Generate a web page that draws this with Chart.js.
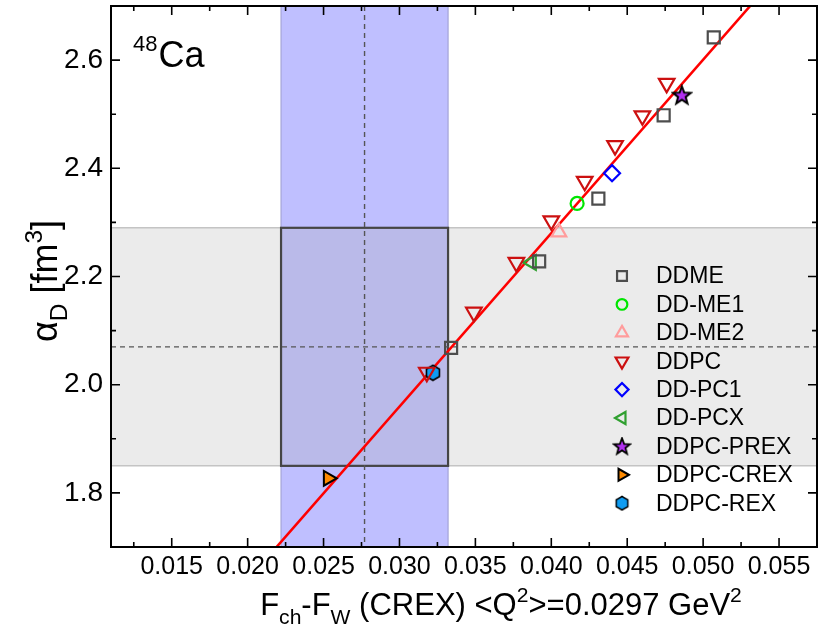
<!DOCTYPE html>
<html><head><meta charset="utf-8">
<script src="https://cdn.jsdelivr.net/npm/chart.js@4/dist/chart.umd.min.js"></script>
<style>html,body{margin:0;padding:0;background:#fff}</style>
</head><body>
<canvas id="c" width="830" height="636" style="display:block;width:830px;height:636px"></canvas>
<script>
// ---------- data ----------
const ddmeX  = [0.0507, 0.0474, 0.0431, 0.0392, 0.0334];
const ddmeY  = [2.642, 2.498, 2.344, 2.228, 2.068];
const ddme1X = [0.0417]; const ddme1Y = [2.335];
const ddme2X = [0.0405]; const ddme2Y = [2.282];
const ddpcX  = [0.0476, 0.0460, 0.0442, 0.0422, 0.0400, 0.0377, 0.0349, 0.0318];
const ddpcY  = [2.557, 2.497, 2.442, 2.376, 2.303, 2.226, 2.134, 2.023];
const ddpc1X = [0.0440]; const ddpc1Y = [2.391];
const ddpcxX = [0.0387]; const ddpcxY = [2.226];
const prexX  = [0.0486]; const prexY  = [2.535];
const crexX  = [0.0253]; const crexY  = [1.827];
const rexX   = [0.0322]; const rexY   = [2.022];
const fitX   = [0.0219, 0.0531];
const fitY   = [1.700, 2.700];
// experimental constraints: [central, error]
const crexFchFw = [0.0277, 0.0055];
const alphaDexp = [2.07, 0.22];
const xTicks = [0.015, 0.020, 0.025, 0.030, 0.035, 0.040, 0.045, 0.050, 0.055];
const xMinor = [0.0125, 0.0175, 0.0225, 0.0275, 0.0325, 0.0375, 0.0425, 0.0475, 0.0525];
const yTicks = [1.8, 2.0, 2.2, 2.4, 2.6];
const yMinor = [1.9, 2.1, 2.3, 2.5];

const FONT = "'Liberation Sans', Arial, Helvetica, sans-serif";
const PLOT_TOP = 6;

function pts(xs, ys){ return xs.map((x,i)=>({x:x, y:ys[i]})); }

function makeStar(){
  const c = document.createElement('canvas'); c.width = 22; c.height = 22;
  const g = c.getContext('2d'); const cx = 11, cy = 11.5, R = 9.5, r = 4;
  g.beginPath();
  for (let i=0;i<10;i++){
    const a = -Math.PI/2 + i*Math.PI/5; const rr = i%2===0 ? R : r;
    const px = cx + rr*Math.cos(a), py = cy + rr*Math.sin(a);
    if(i===0) g.moveTo(px,py); else g.lineTo(px,py);
  }
  g.closePath(); g.fillStyle = '#b22ff0'; g.fill();
  g.lineWidth = 2; g.lineJoin = 'miter'; g.strokeStyle = '#000'; g.stroke();
  return c;
}
function makeHex(){
  const c = document.createElement('canvas'); c.width = 18; c.height = 18;
  const g = c.getContext('2d'); const cx = 9, cy = 9, R = 7.5;
  g.beginPath();
  for (let i=0;i<6;i++){
    const a = -Math.PI/2 + i*Math.PI/3;
    const px = cx + R*Math.cos(a), py = cy + R*Math.sin(a);
    if(i===0) g.moveTo(px,py); else g.lineTo(px,py);
  }
  g.closePath(); g.fillStyle = '#0f9cf2'; g.fill();
  g.lineWidth = 1.6; g.strokeStyle = '#000'; g.stroke();
  return c;
}
const starImg = makeStar();
const hexImg = makeHex();

const none = 'rgba(0,0,0,0)';
const datasets = [
  {label:'DDME', data:pts(ddmeX,ddmeY), pointStyle:'rect', pointRadius:8.5, borderColor:'#4d4d4d', backgroundColor:none, pointBorderWidth:2.2},
  {label:'DD-ME1', data:pts(ddme1X,ddme1Y), pointStyle:'circle', pointRadius:6.5, borderColor:'#00e600', backgroundColor:none, pointBorderWidth:2.2},
  {label:'DD-ME2', data:pts(ddme2X,ddme2Y), pointStyle:'triangle', pointRadius:8.5, borderColor:'#ff9c9c', backgroundColor:none, pointBorderWidth:2.2},
  {label:'DDPC', data:pts(ddpcX,ddpcY), pointStyle:'triangle', pointRotation:180, pointRadius:9, borderColor:'#cc1010', backgroundColor:none, pointBorderWidth:2.2},
  {label:'DD-PC1', data:pts(ddpc1X,ddpc1Y), pointStyle:'rectRot', pointRadius:8, borderColor:'#0000ff', backgroundColor:none, pointBorderWidth:2.2},
  {label:'DD-PCX', data:pts(ddpcxX,ddpcxY), pointStyle:'triangle', pointRotation:270, pointRadius:8.5, borderColor:'#30a030', backgroundColor:none, pointBorderWidth:2.2},
  {label:'DDPC-PREX', data:pts(prexX,prexY), pointStyle:starImg, pointRadius:10, borderColor:'#000', backgroundColor:'#b22ff0', pointBorderWidth:2},
  {label:'DDPC-CREX', data:pts(crexX,crexY), pointStyle:'triangle', pointRotation:90, pointRadius:8.5, borderColor:'#000', backgroundColor:'#ff8a00', pointBorderWidth:2},
  {label:'DDPC-REX', data:pts(rexX,rexY), pointStyle:hexImg, pointRadius:8, borderColor:'#000', backgroundColor:'#0f9cf2', pointBorderWidth:1.6},
].map((d,i)=>Object.assign({type:'scatter', showLine:false, order:1, pointHoverRadius:d.pointRadius}, d));
datasets.unshift({type:'line', label:'fit', data:pts(fitX,fitY), borderColor:'#ff0000', borderWidth:2.6, pointRadius:0, fill:false, order:5, tension:0});

const decor = {
  id:'decor',
  afterLayout(chart){
    const a = chart.chartArea, ys = chart.scales.y;
    if (a && Math.abs(a.top - PLOT_TOP) > 0.01) {
      a.top = PLOT_TOP; a.height = a.bottom - a.top;
      ys.top = PLOT_TOP; ys.height = ys.bottom - ys.top;
      ys.configure();
    }
  },
  beforeDatasetsDraw(chart){
    const {ctx, chartArea:a, scales:{x, y}} = chart;
    const bx0 = x.getPixelForValue(crexFchFw[0]-crexFchFw[1]);
    const bx1 = x.getPixelForValue(crexFchFw[0]+crexFchFw[1]);
    const bxc = x.getPixelForValue(crexFchFw[0]);
    const gy0 = y.getPixelForValue(alphaDexp[0]+alphaDexp[1]);
    const gy1 = y.getPixelForValue(alphaDexp[0]-alphaDexp[1]);
    const gyc = y.getPixelForValue(alphaDexp[0]);
    ctx.save();
    ctx.beginPath(); ctx.rect(a.left, a.top, a.right-a.left, a.bottom-a.top); ctx.clip();
    ctx.fillStyle = '#ebebeb'; ctx.fillRect(a.left, gy0, a.right-a.left, gy1-gy0);
    ctx.strokeStyle = '#c4c4c4'; ctx.lineWidth = 1.5;
    ctx.beginPath(); ctx.moveTo(a.left, gy0); ctx.lineTo(a.right, gy0); ctx.moveTo(a.left, gy1); ctx.lineTo(a.right, gy1); ctx.stroke();
    ctx.fillStyle = '#bfbfff'; ctx.fillRect(bx0, a.top, bx1-bx0, a.bottom-a.top);
    ctx.strokeStyle = '#a4a4d8'; ctx.lineWidth = 1.2;
    ctx.beginPath(); ctx.moveTo(bx0, a.top); ctx.lineTo(bx0, a.bottom); ctx.moveTo(bx1, a.top); ctx.lineTo(bx1, a.bottom); ctx.stroke();
    ctx.fillStyle = '#babae9'; ctx.fillRect(bx0, gy0, bx1-bx0, gy1-gy0);
    ctx.strokeStyle = '#454545'; ctx.lineWidth = 2.2;
    ctx.strokeRect(bx0, gy0, bx1-bx0, gy1-gy0);
    ctx.setLineDash([5,4]); ctx.strokeStyle = '#555'; ctx.lineWidth = 1.4;
    ctx.beginPath(); ctx.moveTo(bxc, a.top); ctx.lineTo(bxc, a.bottom); ctx.stroke();
    ctx.beginPath(); ctx.moveTo(a.left, gyc); ctx.lineTo(a.right, gyc); ctx.stroke();
    ctx.restore();
  },
  afterDraw(chart){
    const {ctx, chartArea:a, scales:{x, y}} = chart;
    ctx.save();
    ctx.strokeStyle = '#000'; ctx.lineWidth = 2;
    ctx.strokeRect(a.left, a.top, a.right-a.left, a.bottom-a.top);
    ctx.lineWidth = 1.6; ctx.beginPath();
    const tk = (vals, len) => {
      vals.forEach(v=>{ const px = x.getPixelForValue(v); if(px<=a.left+1||px>=a.right-1) return;
        ctx.moveTo(px, a.bottom); ctx.lineTo(px, a.bottom-len); ctx.moveTo(px, a.top); ctx.lineTo(px, a.top+len); });
    };
    const tky = (vals, len) => {
      vals.forEach(v=>{ const py = y.getPixelForValue(v); if(py<=a.top+1||py>=a.bottom-1) return;
        ctx.moveTo(a.left, py); ctx.lineTo(a.left+len, py); ctx.moveTo(a.right, py); ctx.lineTo(a.right-len, py); });
    };
    tk(xTicks, 9); tk(xMinor, 5); tky(yTicks, 9); tky(yMinor, 5);
    ctx.stroke();

    const rich = (parts, x0, yb, size, fam) => {
      let cx = x0;
      parts.forEach(p=>{
        let fs = size, dy = 0;
        if (p.sub) { fs = size*0.68; dy = size*0.28; }
        if (p.sup) { fs = size*0.68; dy = -size*0.42; }
        ctx.font = fs + 'px ' + fam;
        ctx.fillText(p.t, cx, yb+dy);
        cx += ctx.measureText(p.t).width;
      });
      return cx - x0;
    };
    const richWidth = (parts, size, fam) => {
      let w = 0;
      parts.forEach(p=>{ const fs = (p.sub||p.sup)? size*0.68 : size; ctx.font = fs+'px '+fam; w += ctx.measureText(p.t).width; });
      return w;
    };
    ctx.fillStyle = '#000'; ctx.textBaseline = 'alphabetic'; ctx.textAlign = 'left';
    const xt = [{t:'F'},{t:'ch',sub:1},{t:'-F'},{t:'W',sub:1},{t:' (CREX) <Q'},{t:'2',sup:1},{t:'>=0.0297 GeV'},{t:'2',sup:1}];
    const xs = 31;
    const xw = richWidth(xt, xs, FONT);
    rich(xt, 501 - xw/2, 615, xs, FONT);
    const yt = [{t:'\u03B1'},{t:'D',sub:1},{t:' [fm'},{t:'3',sup:1},{t:']'}];
    const ys = 36;
    const yw = richWidth(yt, ys, FONT);
    ctx.save(); ctx.translate(57, 281); ctx.rotate(-Math.PI/2);
    rich(yt, -yw/2, 0, ys, FONT);
    ctx.restore();
    ctx.font = '22px ' + FONT; ctx.fillText('48', 133, 51);
    const w48 = ctx.measureText('48').width;
    ctx.font = '36px ' + FONT; ctx.fillText('Ca', 133 + w48 + 1, 67);

    const items = chart.data.datasets.filter(d=>d.label!=='fit');
    const lx = 622, tx = 656, ly0 = 276, dyL = 28.4;
    items.forEach((d,i)=>{
      const py = ly0 + i*dyL;
      const o = {pointStyle:d.pointStyle, rotation:d.pointRotation||0, radius:d.pointRadius*0.82, borderWidth:d.pointBorderWidth};
      ctx.save();
      ctx.fillStyle = d.backgroundColor; ctx.strokeStyle = d.borderColor; ctx.lineWidth = d.pointBorderWidth;
      if (o.pointStyle instanceof HTMLCanvasElement) {
        const im = o.pointStyle; const sc = 0.9;
        ctx.drawImage(im, lx - im.width*sc/2, py - im.height*sc/2, im.width*sc, im.height*sc);
      } else if (Chart.helpers && Chart.helpers.drawPoint) {
        Chart.helpers.drawPoint(ctx, o, lx, py);
      }
      ctx.restore();
      ctx.fillStyle = '#000'; ctx.font = '23px ' + FONT; ctx.textBaseline = 'middle';
      ctx.fillText(d.label, tx, py + 1);
    });
    ctx.restore();
  }
};

new Chart(document.getElementById('c'), {
  data:{datasets},
  options:{
    responsive:false, animation:false, devicePixelRatio:1,
    layout:{padding:{top:PLOT_TOP, right:13, left:0, bottom:0}},
    plugins:{legend:{display:false}, tooltip:{enabled:false}},
    scales:{
      x:{type:'linear', min:0.011, max:0.0575,
        grid:{display:false, drawTicks:false}, border:{display:false},
        afterBuildTicks:s=>{ s.ticks = xTicks.map(v=>({value:v})); },
        afterFit:s=>{ s.height = 89; s.paddingLeft = 0; s.paddingRight = 0; },
        ticks:{autoSkip:false, maxRotation:0, minRotation:0, padding:5, color:'#000', font:{family:FONT, size:25},
          callback:v=>Number(v).toFixed(3)}},
      y:{type:'linear', min:1.7, max:2.7,
        grid:{display:false, drawTicks:false}, border:{display:false},
        afterBuildTicks:s=>{ s.ticks = yTicks.map(v=>({value:v})); },
        afterFit:s=>{ s.width = 111; s.paddingTop = 0; s.paddingBottom = 0; },
        ticks:{autoSkip:false, padding:8, color:'#000', font:{family:FONT, size:28},
          callback:v=>Number(v).toFixed(1)}}
    }
  },
  plugins:[decor]
});
</script>
</body></html>
